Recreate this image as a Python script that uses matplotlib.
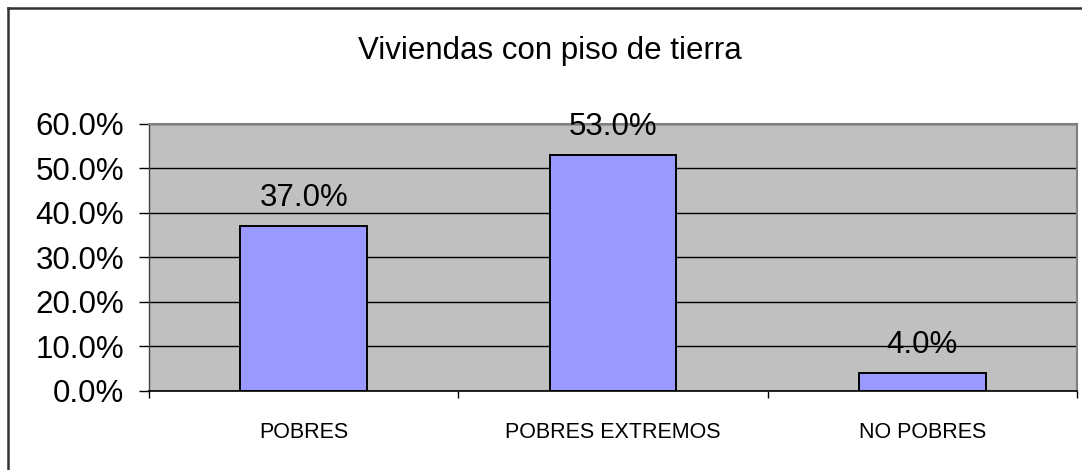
import matplotlib
matplotlib.use("Agg")
import matplotlib.pyplot as plt
from matplotlib.lines import Line2D
from matplotlib.ticker import PercentFormatter

categories = ["POBRES", "POBRES EXTREMOS", "NO POBRES"]
values = [37.0, 53.0, 4.0]
y_ticks = [0, 10, 20, 30, 40, 50, 60]
title = "Viviendas con piso de tierra"

plt.rcParams['font.family'] = ['Liberation Sans', 'DejaVu Sans']

W, H = 1082, 470
fig = plt.figure(figsize=(W / 100, H / 100), dpi=100)
fig.patch.set_facecolor("white")

ax = fig.add_axes([149 / W, (H - 391) / H, (1077 - 149) / W, (391 - 123.5) / H])
ax.set_facecolor("#C0C0C0")

x = list(range(len(categories)))
ax.bar(x, values, width=0.41, color="#9999FF", edgecolor="black", linewidth=1.4, zorder=3)

ax.set_xlim(-0.5, len(categories) - 0.5)
ax.set_ylim(0, 60)
ax.set_yticks(y_ticks)
ax.yaxis.set_major_formatter(PercentFormatter(decimals=1))
ax.grid(axis="y", color="black", linewidth=1.0, zorder=1)
ax.set_axisbelow(True)

ax.tick_params(axis="y", direction="out", length=7, width=1, color="black", pad=11, labelsize=22.5)

ax.set_xticks(x)
ax.set_xticklabels(categories, fontsize=15.5)
ax.tick_params(axis="x", which="major", length=0, pad=22)
ax.set_xticks([i - 0.5 for i in range(len(categories) + 1)], minor=True)
ax.tick_params(axis="x", which="minor", direction="out", length=5, width=1, color="black")

for s in ["top", "right"]:
    ax.spines[s].set_color("#808080")
    ax.spines[s].set_linewidth(1.5)
ax.spines["left"].set_color("#404040")
ax.spines["bottom"].set_color("black")
ax.spines["left"].set_linewidth(1.0)
ax.spines["bottom"].set_linewidth(1.2)

for xi, v in zip(x, values):
    ax.annotate(f"{v:.1f}%", (xi, v), xytext=(0, 9.5), textcoords="offset points",
                ha="center", va="bottom", fontsize=22.5, zorder=5, annotation_clip=False)

fig.text(550 / W, 1 - 51 / H, title, ha="center", va="center", fontsize=22.5)

# outer frame (left and top edges visible)
fig.add_artist(Line2D([7.5 / W, 7.5 / W], [0, 1 - 7.5 / H], transform=fig.transFigure,
                      color="#333333", linewidth=1.8))
fig.add_artist(Line2D([7.5 / W, 1], [1 - 7.5 / H, 1 - 7.5 / H], transform=fig.transFigure,
                      color="#333333", linewidth=1.8))

fig.savefig("out.png", dpi=100)
